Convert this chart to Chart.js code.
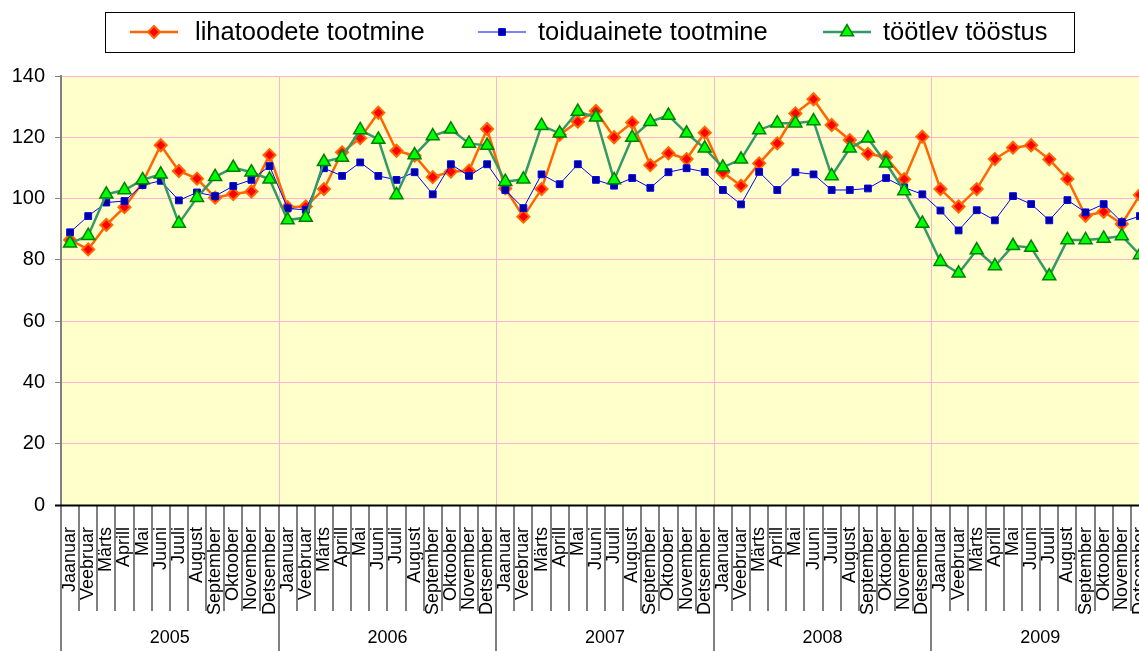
<!DOCTYPE html>
<html>
<head>
<meta charset="utf-8">
<script src="https://cdn.jsdelivr.net/npm/chart.js@4.4.1/dist/chart.umd.min.js"></script>
<style>
  html, body { margin: 0; padding: 0; background: #ffffff; overflow: hidden; }
  canvas { display: block; }
</style>
</head>
<body>
<canvas id="myChart" width="1158" height="651"></canvas>
<script>
// months and years along the bottom axis
const months = ["Jaanuar", "Veebruar", "Märts", "Aprill", "Mai", "Juuni",
  "Juuli", "August", "September", "Oktoober", "November", "Detsember"];
const years = ["2005", "2006", "2007", "2008", "2009"];
const yTicks = [0, 20, 40, 60, 80, 100, 120, 140];

// series (Jan 2005 .. Dec 2009)
const lihatoodete = [
  86.5, 83.4, 91.4, 97.2, 105.2, 117.4, 109.0, 106.5, 100.3, 101.5, 102.3, 114.2,
  97.2, 97.4, 103.1, 115.1, 119.7, 128.0, 115.6, 114.0, 107.0, 108.8, 109.1, 122.7,
  103.3, 94.1, 103.1, 120.8, 125.1, 128.6, 120.0, 124.8, 110.9, 114.8, 112.9, 121.5,
  108.5, 104.2, 111.5, 118.0, 127.8, 132.4, 124.0, 119.1, 114.6, 113.5, 106.3, 120.2,
  103.1, 97.4, 103.1, 112.9, 116.6, 117.4, 112.8, 106.4, 94.4, 95.7, 91.7, 101.2,
];
const toiduainete = [
  89.0, 94.3, 98.7, 99.2, 104.4, 105.8, 99.4, 102.0, 100.8, 104.1, 106.1, 110.6,
  96.8, 96.3, 109.9, 107.4, 111.8, 107.4, 106.1, 108.6, 101.4, 111.2, 107.4, 111.2,
  102.8, 96.9, 107.9, 104.7, 111.2, 106.1, 104.2, 106.7, 103.5, 108.6, 109.9, 108.7,
  102.8, 98.1, 108.7, 102.8, 108.6, 107.9, 102.8, 102.8, 103.3, 106.7, 103.6, 101.4,
  96.1, 89.6, 96.2, 92.9, 100.8, 98.2, 92.9, 99.5, 95.5, 98.2, 92.3, 94.3,
];
const tootlev = [
  85.4, 87.9, 101.4, 102.8, 106.1, 107.9, 91.9, 100.3, 107.1, 110.1, 108.6, 106.3,
  93.0, 93.8, 112.0, 113.4, 122.4, 119.3, 101.2, 114.2, 120.4, 122.6, 118.0, 117.3,
  105.5, 106.3, 123.8, 121.3, 128.4, 126.5, 106.1, 119.9, 125.1, 127.1, 121.3, 116.4,
  110.2, 112.8, 122.4, 124.6, 124.6, 125.3, 107.4, 116.4, 119.7, 111.5, 102.5, 91.9,
  79.4, 75.6, 83.2, 78.0, 84.6, 84.0, 74.7, 86.5, 86.5, 87.0, 87.8, 81.6,
];

const labels = [];
years.forEach(() => months.forEach((m) => labels.push(m)));

const FONT = "'Liberation Sans', Arial, sans-serif";
const PINK = "#ffb3cc";

// yellow plot background + pink year lines
const plotBg = {
  id: "plotBg",
  beforeDraw(chart) {
    const { ctx, chartArea: a } = chart;
    ctx.save();
    ctx.fillStyle = "#ffffcc";
    ctx.fillRect(a.left, a.top, a.right - a.left, a.bottom - a.top);
    ctx.restore();
  },
  beforeDatasetsDraw(chart) {
    const { ctx, chartArea: a, scales } = chart;
    const x = scales.x;
    const half = (x.getPixelForValue(1) - x.getPixelForValue(0)) / 2;
    ctx.save();
    ctx.strokeStyle = PINK;
    ctx.lineWidth = 1;
    for (let i = 12; i < labels.length; i += 12) {
      const px = Math.round(x.getPixelForValue(i) - half) + 0.5;
      ctx.beginPath();
      ctx.moveTo(px, a.top);
      ctx.lineTo(px, a.bottom);
      ctx.stroke();
    }
    ctx.restore();
  },
};

// separators under the month labels and the year row
const yearAxis = {
  id: "yearAxis",
  afterDraw(chart) {
    const { ctx, chartArea: a, scales } = chart;
    const x = scales.x;
    const half = (x.getPixelForValue(1) - x.getPixelForValue(0)) / 2;
    ctx.save();
    ctx.strokeStyle = "#808080";
    ctx.lineWidth = 2;
    for (let i = 0; i <= labels.length; i++) {
      const px = Math.round(x.getPixelForValue(i) - half);
      ctx.beginPath();
      ctx.moveTo(px, a.bottom);
      ctx.lineTo(px, i % 12 === 0 ? chart.height : 611);
      ctx.stroke();
    }
    ctx.fillStyle = "#000";
    ctx.font = "18px " + FONT;
    ctx.textAlign = "center";
    ctx.textBaseline = "middle";
    years.forEach((y, k) => {
      const cx = (x.getPixelForValue(k * 12) + x.getPixelForValue(k * 12 + 11)) / 2;
      ctx.fillText(y, cx, 638);
    });
    // x axis line
    ctx.strokeStyle = "#000";
    ctx.lineWidth = 2;
    ctx.beginPath();
    ctx.moveTo(a.left - 6, a.bottom + 0.5);
    ctx.lineTo(a.right, a.bottom + 0.5);
    ctx.stroke();
    ctx.restore();
  },
};

// boxed legend with line + marker icons
const boxLegend = {
  id: "boxLegend",
  afterDraw(chart) {
    const { ctx } = chart;
    const iconX = [130, 478, 823];
    const textX = [195, 538, 883];
    ctx.save();
    ctx.strokeStyle = "#000";
    ctx.lineWidth = 1;
    ctx.strokeRect(105.5, 12.5, 969, 40);
    ctx.font = "25.5px " + FONT;
    ctx.textBaseline = "middle";
    ctx.textAlign = "left";
    chart.data.datasets.forEach((ds, i) => {
      const x0 = iconX[i];
      const y = 32;
      ctx.strokeStyle = ds.borderColor;
      ctx.lineWidth = ds.borderWidth;
      ctx.beginPath();
      ctx.moveTo(x0, y);
      ctx.lineTo(x0 + 48, y);
      ctx.stroke();
      ctx.fillStyle = ds.pointBackgroundColor;
      ctx.strokeStyle = ds.pointBorderColor;
      ctx.lineWidth = ds.pointBorderWidth;
      Chart.helpers.drawPoint(ctx, {
        pointStyle: ds.pointStyle,
        radius: ds.pointRadius,
        borderWidth: ds.pointBorderWidth,
        rotation: 0,
      }, x0 + 24, y);
      ctx.fillStyle = "#000";
      ctx.fillText(ds.label, textX[i], y + 1);
    });
    ctx.restore();
  },
};

const ctx = document.getElementById("myChart").getContext("2d");
new Chart(ctx, {
  type: "line",
  data: {
    labels: labels,
    datasets: [
      {
        label: "lihatoodete tootmine",
        data: lihatoodete,
        borderColor: "#ff6600",
        borderWidth: 2.5,
        pointStyle: "rectRot",
        pointRadius: 6,
        pointBackgroundColor: "#ff0000",
        pointBorderColor: "#ff6600",
        pointBorderWidth: 2,
        tension: 0,
        order: 3,
      },
      {
        label: "toiduainete tootmine",
        data: toiduainete,
        borderColor: "#0000ff",
        borderWidth: 1,
        pointStyle: "rect",
        pointRadius: 4.8,
        pointBackgroundColor: "#000099",
        pointBorderColor: "#0000ff",
        pointBorderWidth: 1,
        tension: 0,
        order: 2,
      },
      {
        label: "töötlev tööstus",
        data: tootlev,
        borderColor: "#339966",
        borderWidth: 2.5,
        pointStyle: "triangle",
        pointRadius: 7.5,
        pointBackgroundColor: "#00ff00",
        pointBorderColor: "#008000",
        pointBorderWidth: 1.5,
        tension: 0,
        order: 1,
      },
    ],
  },
  options: {
    responsive: false,
    animation: false,
    layout: { padding: { top: 76, left: 0, right: 0, bottom: 0 } },
    plugins: {
      legend: { display: false },
      tooltip: { enabled: false },
    },
    scales: {
      x: {
        offset: true,
        grid: { display: false },
        border: { display: false },
        ticks: {
          autoSkip: false,
          minRotation: 90,
          maxRotation: 90,
          padding: 14,
          color: "#000",
          font: { family: FONT, size: 18 },
        },
        afterFit(scale) {
          scale.height = 146;
          scale.paddingLeft = 0;
          scale.paddingRight = 0;
        },
      },
      y: {
        min: 0,
        max: 140,
        afterBuildTicks(scale) { scale.ticks = yTicks.map((v) => ({ value: v })); },
        grid: {
          color: PINK,
          lineWidth: 1,
          tickLength: 6,
          tickColor: "#808080",
        },
        border: { color: "#808080", width: 2 },
        ticks: {
          padding: 10,
          color: "#000",
          font: { family: FONT, size: 20 },
        },
        afterFit(scale) {
          scale.width = 61;
          scale.paddingTop = 0;
          scale.paddingBottom = 0;
        },
      },
    },
  },
  plugins: [plotBg, yearAxis, boxLegend],
});
</script>
</body>
</html>
